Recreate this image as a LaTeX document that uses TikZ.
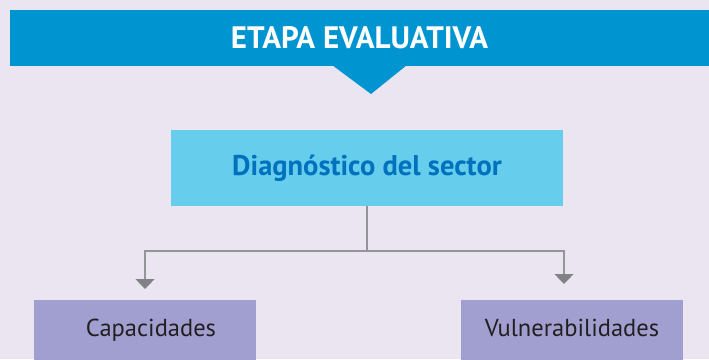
\documentclass[tikz,border=0pt]{standalone}
\usepackage{fontspec}
\setmainfont{PT Sans}
\usetikzlibrary{arrows.meta}

\definecolor{fondo}{RGB}{235,229,241}
\definecolor{azulbanda}{RGB}{0,149,208}
\definecolor{celeste}{RGB}{102,205,237}
\definecolor{azultexto}{RGB}{0,113,188}
\definecolor{lila}{RGB}{160,159,208}
\definecolor{gris}{RGB}{147,149,152}
\definecolor{grisflecha}{RGB}{128,130,133}
\definecolor{tinta}{RGB}{35,31,32}

\tikzset{
  etapa/.style={fill=azulbanda, text=white, minimum width=699pt, minimum height=56pt,
    inner sep=0pt, font=\bfseries\fontsize{31}{31}\selectfont},
  caja/.style={fill=celeste, text=azultexto, minimum width=392pt, minimum height=76pt,
    inner sep=0pt, font=\bfseries\fontsize{28.5}{28.5}\selectfont},
  hoja/.style={fill=lila, text=tinta, minimum width=222pt, minimum height=60pt,
    inner sep=0pt, text height=17pt, text depth=5pt, font=\fontsize{24.5}{24.5}\selectfont},
  enlace/.style={draw=gris, line width=1.2pt},
  flecha/.style={enlace, -{Triangle[width=19pt,length=10pt,fill=grisflecha,color=grisflecha]}}
}

\begin{document}
\begin{tikzpicture}[x=1pt,y=-1pt]
\useasboundingbox (0,0) rectangle (709,359);
\clip (0,0) rectangle (709,359);
\fill[fondo] (0,0) rectangle (709,359);

%banda superior
\node[etapa] (etapa) at (359.5,38) {ETAPA EVALUATIVA};
\fill[azulbanda] (332,65) -- (407,65) -- (371,94) -- cycle;

\node[caja] (diag) at (367,168) {Diagnóstico del sector};

\node[hoja] (cap) at (145,330) {\hspace*{12pt}Capacidades};
\node[hoja] (vul) at (572,330) {Vulnerabilidades};

\coordinate (split) at (367,251);
\coordinate (capTip) at (145,289);
\coordinate (vulTip) at (564,284);

\draw[enlace] (diag.south) -- (split);
\draw[flecha] (split) -| (capTip);
\draw[flecha] (split) -| (vulTip);

\end{tikzpicture}
\end{document}
